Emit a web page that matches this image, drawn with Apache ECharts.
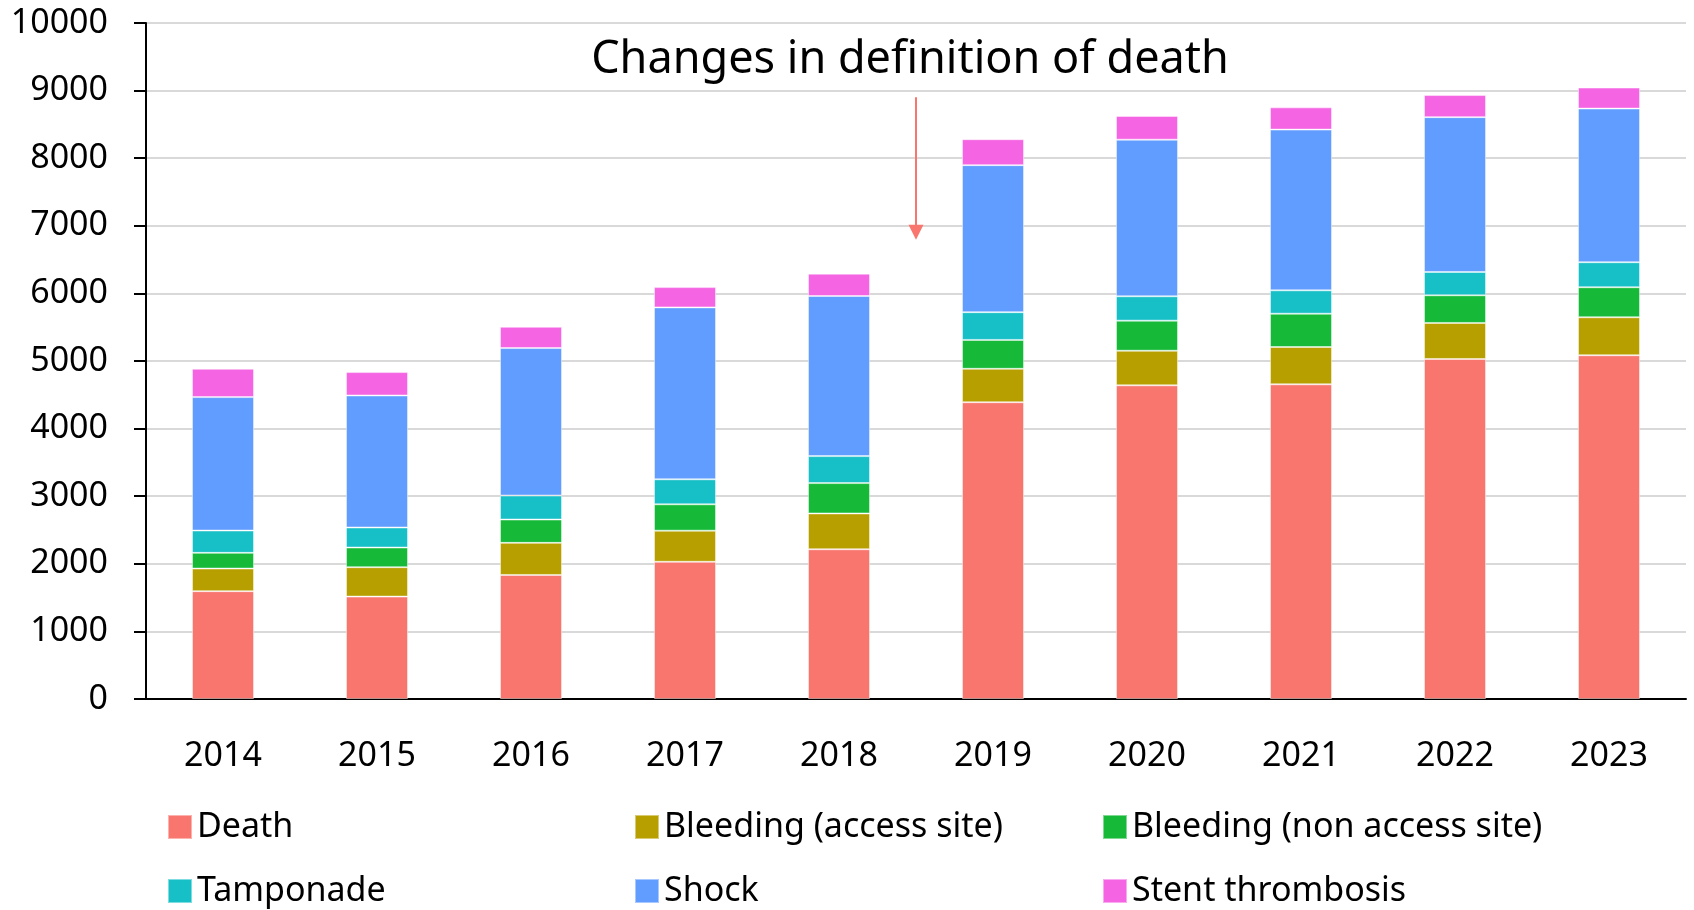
<!DOCTYPE html>
<html>
<head>
<meta charset="utf-8">
<script src="https://cdn.jsdelivr.net/npm/echarts@6/dist/echarts.min.js"></script>
<style>
  html, body { margin: 0; padding: 0; background: #fff; }
  #chart { width: 1694px; height: 910px; }
</style>
</head>
<body>
<div id="chart"></div>
<script>
const years = ['2014', '2015', '2016', '2017', '2018', '2019', '2020', '2021', '2022', '2023']
const yTicks = [0, 1000, 2000, 3000, 4000, 5000, 6000, 7000, 8000, 9000, 10000]

const death = [1595, 1515, 1835, 2030, 2215, 4390, 4640, 4655, 5030, 5085]
const bleedingAccess = [335, 435, 475, 460, 530, 495, 512, 552, 533, 562]
const bleedingNonAccess = [232, 291, 345, 390, 449, 427, 445, 493, 409, 444]
const tamponade = [330, 296, 355, 370, 399, 410, 360, 345, 345, 370]
const shock = [1974, 1953, 2181, 2543, 2368, 2175, 2317, 2378, 2290, 2273]
const stentThrombosis = [419, 346, 315, 300, 331, 384, 352, 329, 327, 311]

// arrow marking the change of definition, between 2018 and 2019
const arrowX = 5
const arrowFrom = 8900
const arrowTo = 6905

const names = ['Death', 'Bleeding (access site)', 'Bleeding (non access site)', 'Tamponade', 'Shock', 'Stent thrombosis']
const colors = ['#F8766D', '#B79F00', '#16BA38', '#17BFC6', '#619CFF', '#F564E3']
const values = [death, bleedingAccess, bleedingNonAccess, tamponade, shock, stentThrombosis]

const font = '"Noto Sans", "Open Sans", sans-serif'
const chart = echarts.init(document.getElementById('chart'))

const barSeries = names.map((name, i) => ({
  name,
  type: 'bar',
  stack: 'total',
  barWidth: 62,
  itemStyle: {
    color: colors[i],
    borderColor: 'rgba(255,255,255,0.45)',
    borderWidth: 1,
  },
  data: values[i],
}))

// legend laid out as 2 rows x 3 columns
const legendLeft = [167, 634, 1102]
const legendTop = [810, 874]
const legends = names.map((name, i) => ({
  data: [name],
  left: legendLeft[i % 3],
  top: legendTop[Math.floor(i / 3)],
  padding: 0,
  itemWidth: 24,
  itemHeight: 24,
  icon: 'rect',
  itemGap: 0,
  textStyle: {
    fontFamily: font,
    fontSize: 34,
    color: '#000',
  },
}))

const option = {
  animation: false,
  color: colors,
  grid: {
    left: 146,
    right: 8,
    top: 23,
    bottom: 211,
  },
  legend: legends,
  xAxis: [
    {
      type: 'category',
      data: years,
      axisLine: { lineStyle: { color: '#000', width: 2 } },
      axisTick: { show: false },
      axisLabel: {
        color: '#000',
        fontFamily: font,
        fontSize: 34,
        margin: 40,
      },
    },
    {
      type: 'value',
      min: 0,
      max: 10,
      show: false,
    },
  ],
  yAxis: {
    type: 'value',
    min: yTicks[0],
    max: yTicks[yTicks.length - 1],
    interval: 1000,
    axisLine: { show: true, lineStyle: { color: '#000', width: 2 } },
    axisTick: { show: true, length: 12, lineStyle: { color: '#000', width: 2 } },
    axisLabel: {
      color: '#000',
      fontFamily: font,
      fontSize: 34,
      margin: 38,
      formatter: v => String(v),
    },
    splitLine: { lineStyle: { color: '#d9d9d9', width: 2 } },
  },
  graphic: [
    {
      type: 'text',
      x: 910,
      y: 60,
      style: {
        text: 'Changes in definition of death',
        fontFamily: font,
        fontSize: 45,
        fill: '#000',
        align: 'center',
        verticalAlign: 'middle',
      },
    },
  ],
  series: barSeries.concat([
    {
      type: 'line',
      xAxisIndex: 1,
      data: [],
      markLine: {
        silent: true,
        symbol: ['none', 'triangle'],
        symbolSize: [15, 15],
        label: { show: false },
        lineStyle: { color: '#F8766D', width: 2, type: 'solid' },
        data: [[{ coord: [arrowX, arrowFrom] }, { coord: [arrowX, arrowTo] }]],
      },
    },
  ]),
}

chart.setOption(option)
</script>
</body>
</html>
